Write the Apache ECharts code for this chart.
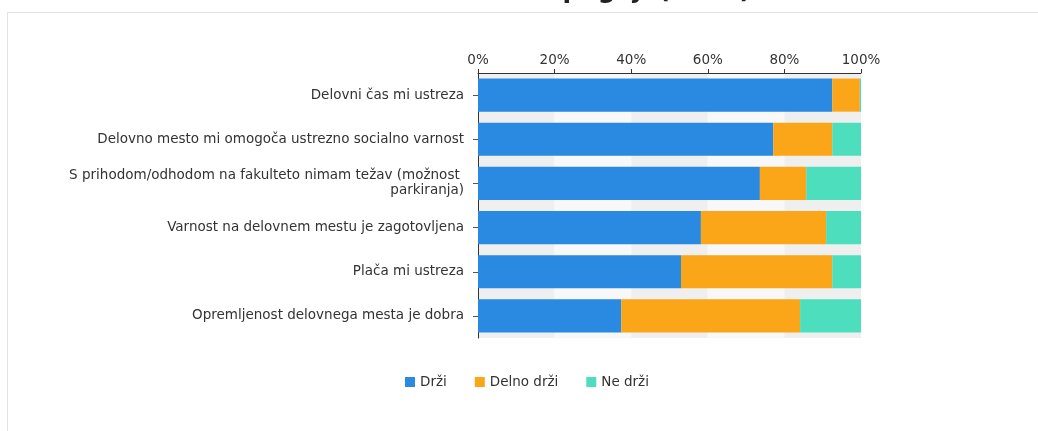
<!DOCTYPE html>
<html>
<head>
<meta charset="utf-8">
<script src="https://cdn.jsdelivr.net/npm/echarts@6/dist/echarts.min.js"></script>
<style>
  html, body { margin: 0; padding: 0; background: #fff; }
  #chart { width: 1038px; height: 431px; }
</style>
</head>
<body>
<div id="chart"></div>
<script>
  // kategorije (od zgoraj navzdol)
  var categories = [
    'Delovni čas mi ustreza',
    'Delovno mesto mi omogoča ustrezno socialno varnost',
    'S prihodom/odhodom na fakulteto nimam težav (možnost parkiranja)',
    'Varnost na delovnem mestu je zagotovljena',
    'Plača mi ustreza',
    'Opremljenost delovnega mesta je dobra'
  ];
  // deleži v %
  var drzi = [92.5, 77.1, 73.6, 58.2, 53.0, 37.4];
  var delnoDrzi = [7.2, 15.4, 12.1, 32.7, 39.5, 46.7];
  var neDrzi = [0.3, 7.5, 14.3, 9.1, 7.5, 15.9];
  var tickLabels = ['0%', '20%', '40%', '60%', '80%', '100%'];

  var font = '"DejaVu Sans", Verdana, sans-serif';
  var fs = 13.5;
  var myChart = echarts.init(document.getElementById('chart'));

  var option = {
    animation: false,
    graphic: [
      {
        type: 'rect',
        silent: true,
        shape: { x: 7.5, y: 12.5, width: 1100, height: 500 },
        style: { fill: 'none', stroke: '#e2e2e2', lineWidth: 1 }
      },
      {
        // naslov je v izvirniku odrezan na vrhu
        type: 'text',
        silent: true,
        x: 751,
        y: 4,
        style: {
          text: 'Delovni pogoji (2021)',
          font: 'bold 25px ' + font,
          fill: '#222',
          align: 'right',
          verticalAlign: 'bottom'
        }
      }
    ],
    legend: {
      left: 400,
      top: 370,
      itemWidth: 10,
      itemHeight: 10,
      itemGap: 28,
      icon: 'rect',
      textStyle: { fontFamily: font, fontSize: fs, color: '#333' },
      data: ['Drži', 'Delno drži', 'Ne drži']
    },
    grid: {
      left: 478,
      right: 177,
      top: 73,
      bottom: 93,
      containLabel: false
    },
    xAxis: {
      type: 'value',
      position: 'top',
      min: 0,
      max: 100,
      interval: 20,
      axisLabel: {
        fontFamily: font,
        fontSize: fs,
        color: '#333',
        margin: 6,
        formatter: function (v) { return tickLabels[v / 20]; }
      },
      axisLine: { show: true, lineStyle: { color: '#333', width: 1 } },
      axisTick: { show: true, length: 4, lineStyle: { color: '#333' } },
      splitLine: { show: false },
      splitArea: { show: true, areaStyle: { color: ['#efefef', '#f8f8f8'] } }
    },
    yAxis: {
      type: 'category',
      inverse: true,
      data: categories,
      axisLine: { show: true, lineStyle: { color: '#333', width: 1 } },
      axisTick: { show: true, length: 5, alignWithLabel: true, lineStyle: { color: '#555' } },
      axisLabel: {
        fontFamily: font,
        fontSize: fs,
        color: '#333',
        margin: 14,
        lineHeight: 15,
        width: 420,
        overflow: 'break',
        align: 'right'
      }
    },
    series: [
      {
        name: 'Drži',
        type: 'bar',
        stack: 'total',
        barCategoryGap: '25%',
        data: drzi,
        itemStyle: { color: '#2a89e0' }
      },
      {
        name: 'Delno drži',
        type: 'bar',
        stack: 'total',
        data: delnoDrzi,
        itemStyle: { color: '#fba518' }
      },
      {
        name: 'Ne drži',
        type: 'bar',
        stack: 'total',
        data: neDrzi,
        itemStyle: { color: '#4ddfbd' }
      }
    ]
  };
  myChart.setOption(option);
</script>
</body>
</html>
